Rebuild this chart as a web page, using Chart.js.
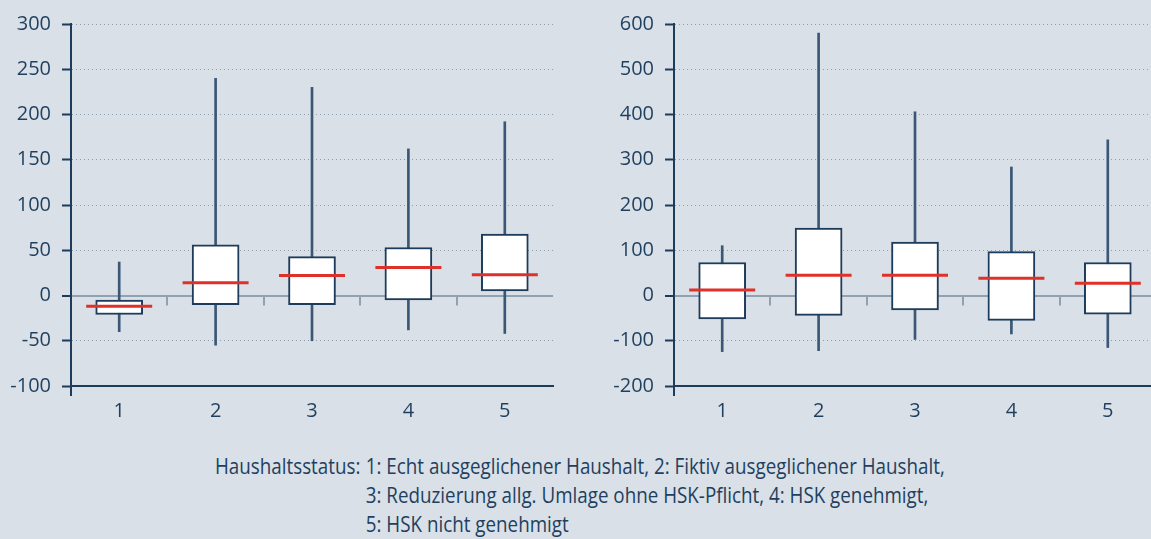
<!DOCTYPE html>
<html lang="de">
<head>
<meta charset="utf-8">
<script src="https://cdn.jsdelivr.net/npm/chart.js@4.4.1/dist/chart.umd.min.js"></script>
<style>
  html, body { margin: 0; padding: 0; background: #d9e0e7; overflow: hidden; width: 1151px; height: 539px; }
  #wrap { position: relative; width: 1151px; height: 539px; overflow: hidden; }
  canvas { position: absolute; top: 0; }
  #left { left: 0; }
  #right { left: 580px; }
  #note {
    position: absolute; left: 215px; top: 452px;
    font-family: "Open Sans", sans-serif; font-size: 21px; color: #1f3f5f;
    line-height: 29px; white-space: nowrap;
    transform: scaleX(0.895); transform-origin: 0 0;
    display: grid; grid-template-columns: 168.5px auto;
  }
</style>
</head>
<body>
<div id="wrap">
  <canvas id="left" width="575" height="430"></canvas>
  <canvas id="right" width="600" height="430"></canvas>
  <div id="note">
    <span>Haushaltsstatus:</span>
    <span>1: Echt ausgeglichener Haushalt, 2: Fiktiv ausgeglichener Haushalt,<br>3: Reduzierung allg. Umlage ohne HSK-Pflicht, 4: HSK genehmigt,<br>5: HSK nicht genehmigt</span>
  </div>
</div>
<script>
// Haushaltsstatus categories shared by both panels
const categories = ['1', '2', '3', '4', '5'];

// Left panel: box plot statistics per status
const leftMin    = [-40, -55, -50, -38, -42];
const leftQ1     = [-21, -10, -10, -5, 5];
const leftMedian = [-12, 14, 22, 31, 23];
const leftQ3     = [-5, 56, 43, 53, 68];
const leftMax    = [37, 240, 230, 162, 192];
const leftTicks  = [-100, -50, 0, 50, 100, 150, 200, 250, 300];

// Right panel: box plot statistics per status
const rightMin    = [-124, -122, -97, -85, -115];
const rightQ1     = [-52, -44, -32, -55, -41];
const rightMedian = [12, 45, 45, 38, 27];
const rightQ3     = [73, 149, 118, 97, 73];
const rightMax    = [110, 580, 406, 284, 344];
const rightTicks  = [-200, -100, 0, 100, 200, 300, 400, 500, 600];

const NAVY = '#1d3b5a';
const WHISKER = '#3a5775';
const TEXT = '#1f3f5f';
const RED = '#e0302a';
const ZERO = '#91a1b0';
const GRID = '#8e9dab';
const FONT = { family: 'Open Sans', size: 20 };

function boxPlot(canvasId, lo, q1, med, q3, hi, tickValues, axisWidth, padRight) {
  const yMin = tickValues[0];
  const yMax = tickValues[tickValues.length - 1];
  const last = categories.length;
  return new Chart(document.getElementById(canvasId), {
    type: 'bar',
    data: {
      labels: categories,
      datasets: [
        {
          type: 'bar', label: 'Spannweite',
          data: categories.map((c, i) => [lo[i], hi[i]]),
          backgroundColor: WHISKER, borderWidth: 0,
          barThickness: 2, grouped: false, order: 3
        },
        {
          type: 'bar', label: 'Quartile',
          data: categories.map((c, i) => [q1[i], q3[i]]),
          backgroundColor: '#ffffff', borderColor: NAVY, borderWidth: 2,
          borderSkipped: false, barThickness: 47, grouped: false, order: 2
        },
        {
          type: 'line', label: 'Median', data: med,
          showLine: false, pointStyle: 'line',
          pointRadius: 33, pointHoverRadius: 33,
          pointBorderWidth: 3, pointHoverBorderWidth: 3,
          borderColor: RED, backgroundColor: RED, order: 1
        }
      ]
    },
    options: {
      responsive: false,
      animation: false,
      events: [],
      layout: { autoPadding: false, padding: { top: 24, right: padRight, left: 0, bottom: 0 } },
      plugins: { legend: { display: false }, tooltip: { enabled: false } },
      scales: {
        x: {
          type: 'category', offset: true,
          grid: {
            display: true, offset: true, drawOnChartArea: true, drawTicks: true,
            tickLength: 10, lineWidth: 2, tickWidth: 2,
            color: ctx => ctx.index === last ? NAVY : 'rgba(0,0,0,0)',
            tickColor: ctx => (ctx.index === 0 || ctx.index === last) ? NAVY : 'rgba(0,0,0,0)'
          },
          border: { display: true, color: NAVY, width: 2 },
          ticks: { color: TEXT, font: FONT, padding: 3, maxRotation: 0, autoSkip: false },
          afterFit(s) { s.height = 44; }
        },
        y: {
          min: yMin, max: yMax,
          afterBuildTicks(s) { s.ticks = tickValues.map(v => ({ value: v })); },
          grid: {
            drawTicks: true, tickLength: 9, tickWidth: 2, tickColor: NAVY,
            color: ctx => ctx.tick && ctx.tick.value === 0 ? ZERO
                        : (ctx.tick && ctx.tick.value === yMin ? 'rgba(0,0,0,0)' : GRID),
            lineWidth: ctx => ctx.tick && ctx.tick.value === 0 ? 2 : 1
          },
          border: {
            display: true, color: NAVY, width: 2,
            dash: ctx => (ctx.tick && ctx.tick.value !== 0) ? [1, 3] : []
          },
          ticks: { color: TEXT, font: FONT, padding: 11, callback: v => String(v) },
          afterFit(s) { s.width = axisWidth; }
        }
      }
    },
    plugins: [{
      // short category separators hanging below the zero line
      id: 'zeroSeparators',
      afterDatasetsDraw(chart) {
        const { ctx, scales: { x, y } } = chart;
        const y0 = y.getPixelForValue(0);
        ctx.save();
        ctx.strokeStyle = ZERO;
        ctx.lineWidth = 2;
        for (let i = 0; i < categories.length - 1; i++) {
          const px = Math.round((x.getPixelForValue(i) + x.getPixelForValue(i + 1)) / 2);
          ctx.beginPath();
          ctx.moveTo(px, y0);
          ctx.lineTo(px, y0 + 10);
          ctx.stroke();
        }
        ctx.restore();
      }
    }]
  });
}

boxPlot('left', leftMin, leftQ1, leftMedian, leftQ3, leftMax, leftTicks, 71, 22);
boxPlot('right', rightMin, rightQ1, rightMedian, rightQ3, rightMax, rightTicks, 94, 24);
</script>
</body>
</html>
